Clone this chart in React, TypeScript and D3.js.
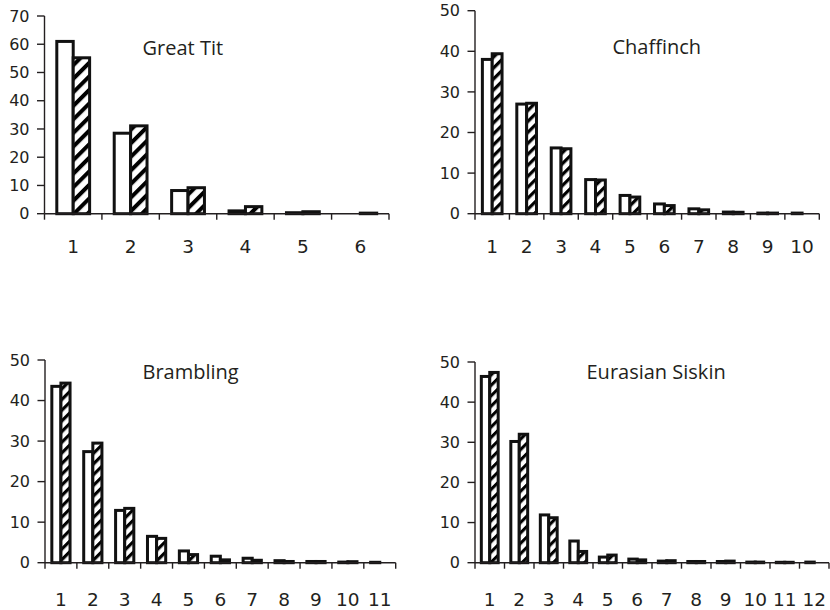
import React from "react";
import * as d3 from "d3";

const greatTitCats = ["1", "2", "3", "4", "5", "6"];
const greatTitWhite = [61.0, 28.5, 8.2, 1.0, 0.35, 0];
const greatTitHatched = [55.2, 31.1, 9.2, 2.5, 0.7, 0.2];
const greatTitTicks = [0, 10, 20, 30, 40, 50, 60, 70];

const chaffinchCats = ["1", "2", "3", "4", "5", "6", "7", "8", "9", "10"];
const chaffinchWhite = [38.0, 27.0, 16.2, 8.4, 4.5, 2.4, 1.2, 0.4, 0.15, 0.15];
const chaffinchHatched = [39.4, 27.2, 16.0, 8.3, 4.1, 2.0, 0.95, 0.35, 0.15, 0];
const chaffinchTicks = [0, 10, 20, 30, 40, 50];

const bramblingCats = ["1", "2", "3", "4", "5", "6", "7", "8", "9", "10", "11"];
const bramblingWhite = [43.5, 27.4, 12.9, 6.5, 2.9, 1.6, 1.1, 0.5, 0.3, 0.15, 0.1];
const bramblingHatched = [44.3, 29.5, 13.4, 6.0, 2.0, 0.7, 0.6, 0.3, 0.3, 0.25, 0];
const bramblingTicks = [0, 10, 20, 30, 40, 50];

const siskinCats = ["1", "2", "3", "4", "5", "6", "7", "8", "9", "10", "11", "12"];
const siskinWhite = [46.4, 30.2, 11.9, 5.4, 1.4, 0.9, 0.4, 0.3, 0.3, 0.15, 0.1, 0.15];
const siskinHatched = [47.4, 32.0, 11.2, 2.8, 1.9, 0.7, 0.5, 0.3, 0.4, 0.15, 0.1, 0];
const siskinTicks = [0, 10, 20, 30, 40, 50];

const INK = "#231f20";
const FONT = "'Open Sans', sans-serif";
const NUMFONT = "'DejaVu Sans', sans-serif";

type PanelProps = {
  id: string;
  title: string;
  cats: string[];
  white: number[];
  hatched: number[];
  ticks: number[];
  left: number;
  right: number;
  y0: number;
  yTop: number;
  titleX: number;
  titleY: number;
  labelY: number;
};

function Panel(p: PanelProps) {
  const yMax = p.ticks[p.ticks.length - 1];
  const y = d3.scaleLinear().domain([0, yMax]).range([p.y0, p.yTop]);
  const x = d3.scaleBand<string>().domain(p.cats).range([p.left, p.right]).padding(0);
  const inner = d3
    .scaleBand<string>()
    .domain(["w", "h"])
    .range([0, x.bandwidth()])
    .paddingInner(0)
    .paddingOuter(0.75);
  const bw = inner.bandwidth();
  const sp = 5 + bw * 0.28;
  const patId = `hatch-${p.id}`;
  const boundaries = p.cats.map((c) => x(c) as number).concat([p.right]);
  return (
    <g>
      <defs>
        <pattern
          id={patId}
          patternUnits="userSpaceOnUse"
          width={sp}
          height={sp}
          patternTransform="rotate(45)"
        >
          <rect x={0} y={0} width={sp} height={sp} fill="#fff" />
          <rect x={0} y={0} width={sp * 0.42} height={sp} fill="#000" />
        </pattern>
      </defs>
      {p.cats.map((c, i) => {
        const bx = x(c) as number;
        const items: [string, number][] = [
          ["w", p.white[i]],
          ["h", p.hatched[i]],
        ];
        return items.map(([k, v]) =>
          v > 0 ? (
            <rect
              key={c + k}
              x={bx + (inner(k) as number)}
              y={y(v)}
              width={bw}
              height={p.y0 - y(v)}
              fill={k === "w" ? "#fff" : `url(#${patId})`}
              stroke="#111"
              strokeWidth={3}
            />
          ) : null
        );
      })}
      {/* y axis */}
      <line x1={p.left} x2={p.left} y1={p.y0} y2={p.yTop} stroke={INK} strokeWidth={1.4} />
      {p.ticks.map((t) => (
        <g key={"yt" + t}>
          <line x1={p.left - 7.5} x2={p.left} y1={y(t)} y2={y(t)} stroke={INK} strokeWidth={1.4} />
          <text
            x={p.left - 15}
            y={y(t)}
            dy="0.36em"
            textAnchor="end"
            fontFamily={NUMFONT}
            fontSize={16}
            fill={INK}
          >
            {t}
          </text>
        </g>
      ))}
      {/* x axis */}
      <line x1={p.left} x2={p.right} y1={p.y0} y2={p.y0} stroke={INK} strokeWidth={1.4} />
      {boundaries.map((b, i) => (
        <line key={"xt" + i} x1={b} x2={b} y1={p.y0} y2={p.y0 + 6} stroke={INK} strokeWidth={1.4} />
      ))}
      {p.cats.map((c) => (
        <text
          key={"xl" + c}
          x={(x(c) as number) + x.bandwidth() / 2}
          y={p.labelY}
          textAnchor="middle"
          fontFamily={NUMFONT}
          fontSize={18.5}
          fill={INK}
        >
          {c}
        </text>
      ))}
      <text x={p.titleX} y={p.titleY} fontFamily={FONT} fontSize={20} fill={INK}>
        {p.title}
      </text>
    </g>
  );
}

export default function App() {
  return (
    <svg
      width={830}
      height={610}
      style={{ position: "absolute", left: 0, top: 0, background: "#fff" }}
    >
      <rect width={830} height={610} fill="#fff" />
      <Panel
        id="gt"
        title="Great Tit"
        cats={greatTitCats}
        white={greatTitWhite}
        hatched={greatTitHatched}
        ticks={greatTitTicks}
        left={44.5}
        right={389}
        y0={213.7}
        yTop={16}
        titleX={142.5}
        titleY={55}
        labelY={253}
      />
      <Panel
        id="ch"
        title="Chaffinch"
        cats={chaffinchCats}
        white={chaffinchWhite}
        hatched={chaffinchHatched}
        ticks={chaffinchTicks}
        left={475}
        right={819.3}
        y0={213.7}
        yTop={10.7}
        titleX={612.5}
        titleY={54}
        labelY={253}
      />
      <Panel
        id="br"
        title="Brambling"
        cats={bramblingCats}
        white={bramblingWhite}
        hatched={bramblingHatched}
        ticks={bramblingTicks}
        left={45}
        right={395.7}
        y0={562.7}
        yTop={360}
        titleX={142.5}
        titleY={379}
        labelY={605.5}
      />
      <Panel
        id="es"
        title="Eurasian Siskin"
        cats={siskinCats}
        white={siskinWhite}
        hatched={siskinHatched}
        ticks={siskinTicks}
        left={475}
        right={829}
        y0={562.7}
        yTop={362}
        titleX={586.5}
        titleY={379}
        labelY={605.5}
      />
    </svg>
  );
}
